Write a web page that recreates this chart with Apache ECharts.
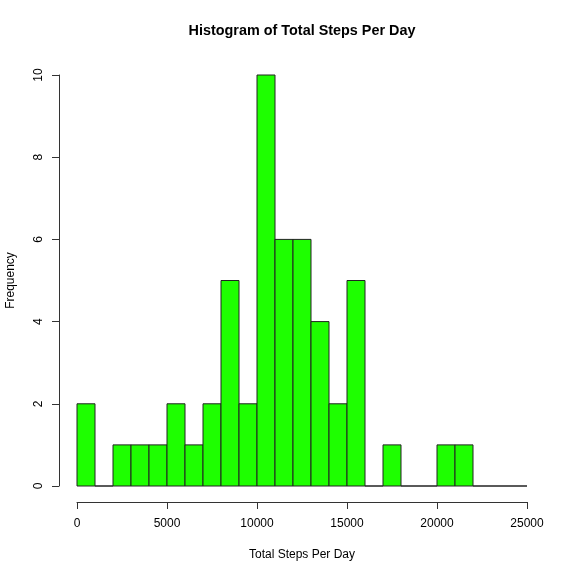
<!DOCTYPE html>
<html>
<head>
<meta charset="utf-8">
<script src="https://cdn.jsdelivr.net/npm/echarts@6/dist/echarts.min.js"></script>
<style>html,body{margin:0;padding:0;background:#fff}#c{width:576px;height:576px}</style>
</head>
<body>
<div id="c"></div>
<script>
const binStarts = [0,1000,2000,3000,4000,5000,6000,7000,8000,9000,10000,11000,12000,13000,14000,15000,16000,17000,18000,19000,20000,21000,22000,23000,24000];
const binWidth = 1000;
const counts = [2,0,1,1,1,2,1,2,5,2,10,6,6,4,2,5,0,1,0,0,1,1,0,0,0];
const xTicks = [0,5000,10000,15000,20000,25000];
const yTicks = [0,2,4,6,8,10];

const data = binStarts.map((s,i)=>[s, s+binWidth, counts[i]]);
const font = 'Liberation Sans, Arial, Helvetica, sans-serif';
const axisCol = '#333';

const chart = echarts.init(document.getElementById('c'), null, {renderer:'canvas'});
const hidden = {show:false};
chart.setOption({
  animation:false,
  backgroundColor:'#fff',
  graphic:[{type:'text', x:302, y:31, silent:true,
    style:{text:'Histogram of Total Steps Per Day', textAlign:'center', textVerticalAlign:'middle',
      font:'bold 14.4px Liberation Sans, Arial, Helvetica, sans-serif', fill:'#000'}}],
  grid:[
    {left:77, right:49, top:75, bottom:90, containLabel:false, outerBoundsMode:'none'},
    {left:77, right:49, top:91, bottom:74, containLabel:false, outerBoundsMode:'none'},
    {left:59, right:67, top:75, bottom:90, containLabel:false, outerBoundsMode:'none'}
  ],
  xAxis:[
    {gridIndex:0, type:'value', min:0, max:25000, interval:5000,
      axisLine:hidden, axisTick:hidden, axisLabel:hidden, splitLine:hidden},
    {gridIndex:1, type:'value', min:xTicks[0], max:xTicks[xTicks.length-1], interval:xTicks[1]-xTicks[0],
      name:'Total Steps Per Day', nameLocation:'middle', nameGap:47,
      nameTextStyle:{fontFamily:font, fontSize:12, color:'#000'},
      axisLine:{show:true, onZero:false, lineStyle:{color:axisCol, width:1}},
      axisTick:{show:true, length:7, lineStyle:{color:axisCol}},
      axisLabel:{fontFamily:font, fontSize:12, color:'#000', margin:16, showMaxLabel:true, showMinLabel:true,
        formatter:v=>String(v)},
      splitLine:hidden},
    {gridIndex:2, type:'value', min:0, max:1, show:false}
  ],
  yAxis:[
    {gridIndex:0, type:'value', min:0, max:10, interval:2,
      axisLine:hidden, axisTick:hidden, axisLabel:hidden, splitLine:hidden},
    {gridIndex:1, type:'value', min:0, max:1, show:false},
    {gridIndex:2, type:'value', min:yTicks[0], max:yTicks[yTicks.length-1], interval:yTicks[1]-yTicks[0],
      name:'Frequency', nameLocation:'middle', nameGap:42,
      nameTextStyle:{fontFamily:font, fontSize:12, color:'#000'},
      axisLine:{show:true, onZero:false, lineStyle:{color:axisCol, width:1}},
      axisTick:{show:true, length:7, lineStyle:{color:axisCol}},
      axisLabel:{fontFamily:font, fontSize:12, color:'#000', rotate:90, margin:14, formatter:v=>String(v)},
      splitLine:hidden}
  ],
  series:[{
    type:'custom',
    xAxisIndex:0, yAxisIndex:0,
    clip:false,
    data:data,
    encode:{x:[0,1], y:2},
    renderItem:function(params, api){
      const p0 = api.coord([api.value(0), 0]);
      const p1 = api.coord([api.value(1), api.value(2)]);
      return {type:'rect',
        shape:{x:p0[0], y:p1[1], width:p1[0]-p0[0], height:p0[1]-p1[1]},
        style:{fill:'#1eff00', stroke:'#222', lineWidth:1}};
    }
  }]
});
</script>
</body>
</html>
